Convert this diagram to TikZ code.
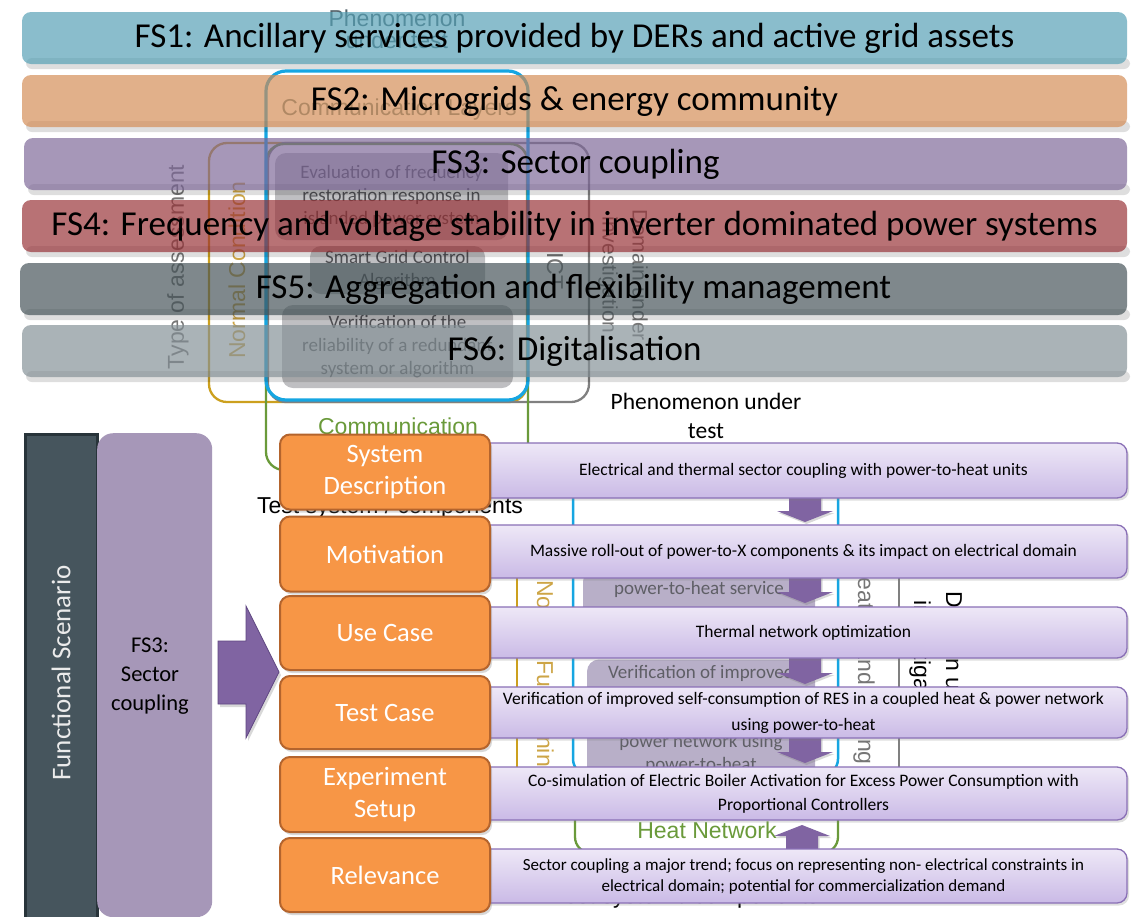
\documentclass[tikz,border=0pt]{standalone}
\usepackage{fontspec}
\setmainfont{Carlito}
\newfontfamily\arialfont{Liberation Sans}
\usetikzlibrary{shadows}
\definecolor{fsA}{RGB}{83,159,180}
\definecolor{fsB}{RGB}{212,139,83}
\definecolor{fsC}{RGB}{124,102,151}
\definecolor{fsD}{RGB}{151,48,53}
\definecolor{fsE}{RGB}{67,81,86}
\definecolor{fsF}{RGB}{131,143,149}
\definecolor{cyanline}{RGB}{22,166,226}
\definecolor{goldline}{RGB}{204,160,30}
\definecolor{goldtext}{RGB}{205,165,70}
\definecolor{greenline}{RGB}{106,154,58}
\definecolor{greyline}{RGB}{128,128,128}
\definecolor{textgrey}{RGB}{118,118,118}
\definecolor{commcol}{RGB}{100,132,138}
\definecolor{phencol}{RGB}{85,100,108}
\definecolor{boxgrey}{RGB}{128,128,134}
\definecolor{innertext}{RGB}{78,78,82}
\definecolor{lboxfill}{RGB}{184,175,200}
\definecolor{lboxtext}{RGB}{95,95,102}
\definecolor{orangefill}{RGB}{247,150,70}
\definecolor{orangeedge}{RGB}{180,100,45}
\definecolor{ptop}{RGB}{238,232,247}
\definecolor{pbot}{RGB}{202,186,230}
\definecolor{pedge}{RGB}{138,112,182}
\definecolor{arrowpurple}{RGB}{128,100,162}
\definecolor{arrowedge}{RGB}{95,70,130}
\definecolor{slate}{RGB}{70,85,93}
\definecolor{slateedge}{RGB}{40,52,58}
\definecolor{lavender}{RGB}{166,151,184}
\begin{document}
\begin{tikzpicture}[x=1pt,y=-1pt,
  fsbar/.style={rounded corners=9pt, inner sep=0pt, fill opacity=0.68, text opacity=1, text=black, font=\fontsize{35}{40}\selectfont},
  fsshade/.style={black, opacity=0.13, rounded corners=6pt},
  frame/.style={line width=2.3pt, rounded corners=18pt},
  bglabel/.style={font=\arialfont\fontsize{23}{27}\selectfont, inner sep=0pt},
  greybox/.style={rounded corners=11pt, fill=boxgrey, fill opacity=0.5, text opacity=1, text=innertext, font=\fontsize{19}{23}\selectfont, align=center, inner sep=0pt},
  lbox/.style={rounded corners=12pt, fill=lboxfill, inner sep=0pt},
  ltext/.style={text=lboxtext, font=\fontsize{19}{23}\selectfont, align=center, inner sep=0pt},
  flow/.style={fill=arrowpurple, drop shadow={opacity=0.3, shadow xshift=1.5pt, shadow yshift=-2pt}},
  obox/.style={rounded corners=10pt, fill=orangefill, draw=orangeedge, line width=2pt, minimum width=210pt, minimum height=75pt, inner sep=0pt, text=white, align=center, font=\fontsize{26.5}{32}\selectfont, drop shadow={opacity=0.3, shadow xshift=2pt, shadow yshift=-3pt}},
  pbox/.style={rounded corners=10pt, top color=ptop, bottom color=pbot, draw=pedge, line width=1.3pt, minimum width=647pt, inner sep=0pt, align=center, font=\fontsize{17.5}{26}\selectfont, drop shadow={opacity=0.25, shadow xshift=2pt, shadow yshift=-2.5pt}},
]
\clip (0,0) rectangle (1135,916);
\fill[white] (0,0) rectangle (1135,916);

% ---------- upper background diagram ----------
\node[bglabel, text=phencol, align=center, font=\arialfont\fontsize{23}{22}\selectfont] (phentop) at (397,29) {Phenomenon\\under test};
\draw[goldline, frame] (209,143) rectangle (527,402);
\draw[greyline, frame] (268,143) rectangle (589,402);
\draw[greenline, frame] (266,144) rectangle (528,470);
\draw[cyanline, line width=3.2pt, rounded corners=20pt] (266,71) rectangle (528,400);
\node[bglabel, text=commcol] (commlay) at (399,110) {Communication Layers};
\node[bglabel, text=textgrey, rotate=90] (typeass) at (178,267) {Type of assessment};
\node[bglabel, text=goldtext, rotate=90] (normcond) at (237,270) {Normal Condition};
\node[bglabel, text=textgrey, rotate=-90] (ict) at (555,271) {ICT};
\node[bglabel, text=textgrey, rotate=-90, align=center, font=\arialfont\fontsize{21}{30}\selectfont] (domtop) at (623,275) {Domain under\\investigation};
\node[greybox, minimum width=233pt, minimum height=87pt] (evalbox) at (391.5,196.5) {Evaluation of frequency\\restoration response in\\islanded power system};
\node[greybox, minimum width=175pt, minimum height=48pt] (smartbox) at (397.5,270) {Smart Grid Control\\Algorithm};
\node[greybox, minimum width=231pt, minimum height=83pt] (verbox) at (397.5,346.5) {Verification of the\\reliability of a redundant\\system or algorithm};
\node[bglabel, text=greenline] (commgreen) at (398,426) {Communication};

% ---------- FS bars ----------
\fill[fsshade] (26,58) rectangle (1130,69);
\fill[fsshade] (26,121) rectangle (1130,132);
\fill[fsshade] (28,184) rectangle (1130,195);
\fill[fsshade] (26,246) rectangle (1130,257);
\fill[fsshade] (24,309) rectangle (1130,320);
\fill[fsshade] (26,371) rectangle (1130,382);
\node[fsbar, fill=fsA, minimum width=1105pt, minimum height=52pt] (fs1) at (574.5,38) {FS1: Ancillary services provided by DERs and active grid assets};
\node[fsbar, fill=fsB, minimum width=1105pt, minimum height=52pt] (fs2) at (574.5,101) {FS2: Microgrids \& energy community};
\node[fsbar, fill=fsC, minimum width=1103pt, minimum height=52pt] (fs3) at (575.5,164) {FS3: Sector coupling};
\node[fsbar, fill=fsD, minimum width=1105pt, minimum height=52pt] (fs4) at (574.5,226) {FS4: Frequency and voltage stability in inverter dominated power systems};
\node[fsbar, fill=fsE, minimum width=1107pt, minimum height=52pt] (fs5) at (573.5,289) {FS5: Aggregation and flexibility management};
\node[fsbar, fill=fsF, minimum width=1105pt, minimum height=52pt] (fs6) at (574.5,351) {FS6: Digitalisation};

% ---------- lower background diagram ----------
\node[font=\fontsize{23.5}{29}\selectfont, align=center, inner sep=0pt] (phenlow) at (706,416) {Phenomenon under\\test};
\node[bglabel] (testsys1) at (390,508) {Test system / components};
\draw[cyanline, line width=2.5pt, rounded corners=16pt] (573,470) rectangle (838,775);
\node[bglabel, text=cyanline] (sectcoup) at (706,488) {Sector coupling};
\draw[goldline, line width=2.2pt] (517,560) -- (517,790);
\node[bglabel, text=goldtext, rotate=-90] (normfunc) at (543,680) {Normal Functioning};
\draw[greyline, line width=2.2pt] (899,560) -- (899,790);
\node[bglabel, text=textgrey, rotate=-90] (heatcool) at (864,663) {Heating and cooling};
\node[bglabel, rotate=-90, align=center, font=\arialfont\fontsize{23}{32}\selectfont] (domlow) at (936,664) {Domain under\\investigation};
\node[lbox, minimum width=232pt, minimum height=85pt] (p2hbox) at (699,612) {};
\node[ltext] (p2htext) at (699,589) {power-to-heat service};
\node[lbox, minimum width=228pt, minimum height=125pt] (verlowbox) at (701,722) {};
\node[ltext] (verlowtext) at (701,719) {Verification of improved\\self-consumption of RES\\in a coupled heat \&\\power network using\\power-to-heat};
\draw[greenline, line width=2.3pt, rounded corners=16pt] (575,790) rectangle (838,853);
\node[bglabel, text=greenline] (heatnet) at (707,830) {Heat Network};
\node[bglabel] (testsys2) at (686,898) {Test system / components};
\path[flow] (805,522) -- ++(-28,-11) -- ++(12,0) -- ++(0,-25) -- ++(32,0) -- ++(0,25) -- ++(12,0) -- cycle;
\path[flow] (805,603) -- ++(-28,-11) -- ++(12,0) -- ++(0,-25) -- ++(32,0) -- ++(0,25) -- ++(12,0) -- cycle;
\path[flow] (805,684) -- ++(-28,-11) -- ++(12,0) -- ++(0,-25) -- ++(32,0) -- ++(0,25) -- ++(12,0) -- cycle;
\path[flow] (805,763) -- ++(-28,-11) -- ++(12,0) -- ++(0,-25) -- ++(32,0) -- ++(0,25) -- ++(12,0) -- cycle;
\path[flow] (802,825) -- ++(-28,11) -- ++(12,0) -- ++(0,25) -- ++(32,0) -- ++(0,-25) -- ++(12,0) -- cycle;

% ---------- purple description boxes ----------
\node[pbox, minimum height=55pt] (pb1) at (803.5,470.5) {Electrical and thermal sector coupling with power-to-heat units};
\node[pbox, minimum height=53pt] (pb2) at (803.5,551.5) {Massive roll-out of power-to-X components \& its impact on electrical domain};
\node[pbox, minimum height=51pt] (pb3) at (803.5,632.5) {Thermal network optimization};
\node[pbox, minimum height=51pt] (pb4) at (803.5,712.5) {Verification of improved self-consumption of RES in a coupled heat \& power network\\using power-to-heat};
\node[pbox, minimum height=53pt, font=\fontsize{17.5}{24}\selectfont] (pb5) at (803.5,793.5) {Co-simulation of Electric Boiler Activation for Excess Power Consumption with\\Proportional Controllers};
\node[pbox, minimum height=54pt, font=\fontsize{17}{21}\selectfont] (pb6) at (803.5,876) {Sector coupling a major trend; focus on representing non- electrical constraints in\\electrical domain; potential for commercialization demand};

% ---------- orange step boxes ----------
\node[obox] (sysdesc) at (385,472) {System\\Description};
\node[obox] (motiv) at (385,554) {Motivation};
\node[obox, minimum height=74pt] (usecase) at (385,633) {Use Case};
\node[obox, minimum height=73pt] (testcase) at (385,712.5) {Test Case};
\node[obox] (expsetup) at (385,794.5) {Experiment\\Setup};
\node[obox, minimum height=74pt] (relev) at (385,875) {Relevance};

% ---------- left panels ----------
\node[draw=slateedge, fill=slate, line width=2.5pt, minimum width=72pt, minimum height=500pt, anchor=north west, inner sep=0pt] (fspanel) at (24,433) {};
\node[rotate=90, text=white!92!black, font=\fontsize{27}{30}\selectfont] (fslabel) at (61,673) {Functional Scenario};
\node[fill=lavender, rounded corners=16pt, minimum width=115pt, minimum height=484pt, anchor=north west, inner sep=0pt] (fs3panel) at (97,433) {};
\node[font=\fontsize{22.5}{29}\selectfont, align=center, inner sep=0pt] (fs3text) at (150,676) {FS3:\\Sector\\coupling};
\path[fill=arrowpurple, draw=arrowedge, line width=0.8pt, drop shadow={opacity=0.3, shadow xshift=2pt, shadow yshift=-3pt}] (218,641) -- (246,641) -- (246,606) -- (279,672) -- (246,738) -- (246,704) -- (218,704) -- cycle;
\end{tikzpicture}
\end{document}
